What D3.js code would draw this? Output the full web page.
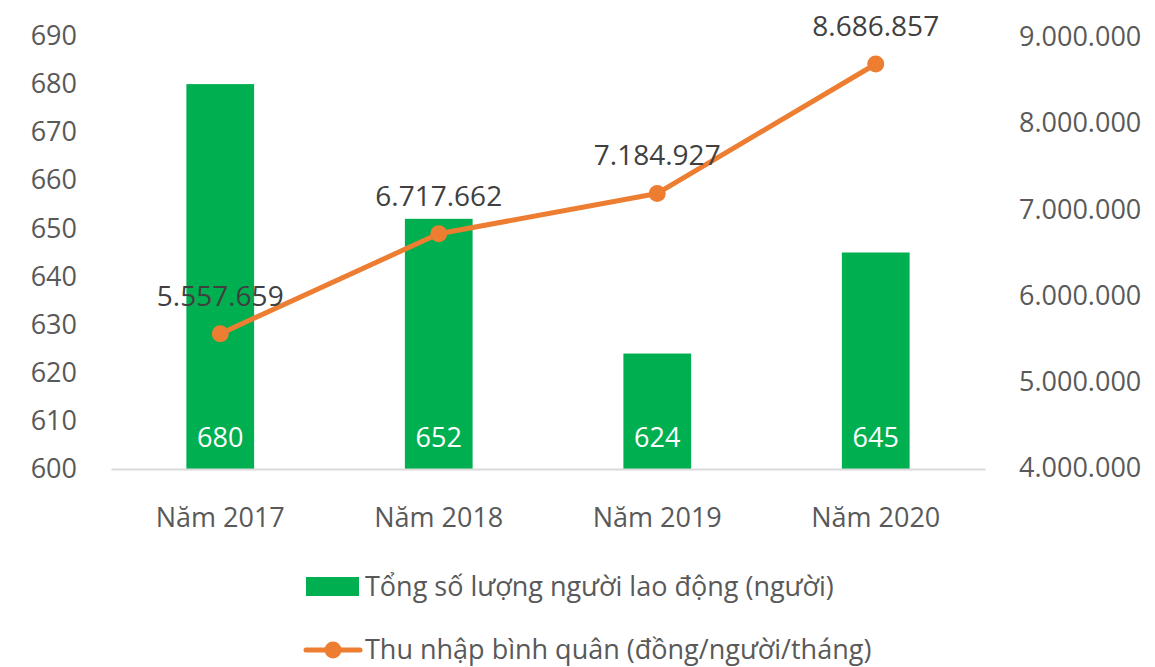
<!DOCTYPE html>
<html>
<head>
<meta charset="utf-8">
<script src="https://cdn.jsdelivr.net/npm/d3@7"></script>
<style>
  body { margin: 0; background: #fff; }
  text { font-family: "Open Sans", Lato, sans-serif; }
</style>
</head>
<body>
<svg id="chart" width="1155" height="667"></svg>
<script>
//
// Data
//
var years = ['Năm 2017', 'Năm 2018', 'Năm 2019', 'Năm 2020']
var workers = [680, 652, 624, 645]
var income = [5557659, 6717662, 7184927, 8686857]
var leftTicks = [600, 610, 620, 630, 640, 650, 660, 670, 680, 690]
var rightTicks = [4000000, 5000000, 6000000, 7000000, 8000000, 9000000]
var seriesNames = ['Tổng số lượng người lao động (người)', 'Thu nhập bình quân (đồng/người/tháng)']

// colors
var colorBar = '#00B050'
var colorLine = '#ED7D31'
var colorText = '#595959'
var colorLabel = '#404040'
var colorAxis = '#D9D9D9'
var fontSize = 27

//
// Scales
//
var svg = d3.select('#chart')
var plotLeft = 111, plotRight = 985, plotTop = 36, plotBottom = 469

var x = d3.scaleBand().domain(years).range([plotLeft, plotRight]).padding(0)
var yL = d3.scaleLinear().domain([600, 690]).range([plotBottom, plotTop])
var yR = d3.scaleLinear().domain([4000000, 9000000]).range([plotBottom - 1, plotTop + 1])
var barW = x.bandwidth() * 0.31

function cx(i) { return x(years[i]) + x.bandwidth() / 2 }

// vi-VN style numbers: 5.557.659
var fmt = function(v) { return d3.format(',')(v).replace(/,/g, '.') }

//
// Axes
//
var axisL = svg.append('g')
  .attr('transform', 'translate(' + (plotLeft - 34) + ',0)')
  .call(d3.axisLeft(yL).tickValues(leftTicks).tickSize(0).tickPadding(0))
axisL.select('.domain').remove()
axisL.selectAll('text').attr('font-size', fontSize).attr('fill', colorText)

var axisR = svg.append('g')
  .attr('transform', 'translate(' + (plotRight + 34) + ',0)')
  .call(d3.axisRight(yR).tickValues(rightTicks).tickSize(0).tickPadding(0).tickFormat(fmt))
axisR.select('.domain').remove()
axisR.selectAll('text').attr('font-size', fontSize).attr('fill', colorText)

//
// Bars
//
var bars = svg.append('g')
bars.selectAll('rect')
  .data(workers)
  .enter()
  .append('rect')
  .attr('x', function(d, i) { return cx(i) - barW / 2 })
  .attr('y', function(d) { return yL(d) })
  .attr('width', barW)
  .attr('height', function(d) { return yL(600) - yL(d) })
  .attr('fill', colorBar)

bars.selectAll('text')
  .data(workers)
  .enter()
  .append('text')
  .attr('x', function(d, i) { return cx(i) })
  .attr('y', yL(600) - 31)
  .attr('dy', '0.35em')
  .attr('text-anchor', 'middle')
  .attr('font-size', fontSize)
  .attr('fill', '#fff')
  .text(function(d) { return d })

// baseline + category labels
var xAxis = svg.append('g')
  .attr('transform', 'translate(0,' + plotBottom + ')')
  .call(d3.axisBottom(x).tickSize(0).tickPadding(39))
xAxis.select('.domain').attr('stroke', colorAxis).attr('stroke-width', 2)
xAxis.selectAll('text').attr('font-size', fontSize).attr('fill', colorText)

//
// Line
//
var line = d3.line()
  .x(function(d, i) { return cx(i) })
  .y(function(d) { return yR(d) })

svg.append('path')
  .datum(income)
  .attr('d', line)
  .attr('fill', 'none')
  .attr('stroke', colorLine)
  .attr('stroke-width', 5)
  .attr('stroke-linejoin', 'round')
  .attr('stroke-linecap', 'round')

svg.append('g').selectAll('circle')
  .data(income)
  .enter()
  .append('circle')
  .attr('cx', function(d, i) { return cx(i) })
  .attr('cy', function(d) { return yR(d) })
  .attr('r', 8.5)
  .attr('fill', colorLine)

svg.append('g').selectAll('text')
  .data(income)
  .enter()
  .append('text')
  .attr('x', function(d, i) { return cx(i) })
  .attr('y', function(d) { return yR(d) - 38 })
  .attr('dy', '0.35em')
  .attr('text-anchor', 'middle')
  .attr('font-size', 28)
  .attr('fill', colorLabel)
  .text(fmt)

//
// Legend
//
var legend = svg.append('g').attr('transform', 'translate(306,0)')
legend.append('rect')
  .attr('x', 0).attr('y', 577).attr('width', 53).attr('height', 19)
  .attr('fill', colorBar)
legend.append('line')
  .attr('x1', 0).attr('x2', 54).attr('y1', 650).attr('y2', 650)
  .attr('stroke', colorLine).attr('stroke-width', 5).attr('stroke-linecap', 'round')
legend.append('circle')
  .attr('cx', 27).attr('cy', 650).attr('r', 8.5).attr('fill', colorLine)
legend.selectAll('text.lg')
  .data(seriesNames)
  .enter()
  .append('text')
  .attr('class', 'lg')
  .attr('x', 59)
  .attr('y', function(d, i) { return 587 + i * 63 })
  .attr('dy', '0.35em')
  .attr('font-size', fontSize)
  .attr('fill', colorText)
  .text(function(d) { return d })
</script>
</body>
</html>
